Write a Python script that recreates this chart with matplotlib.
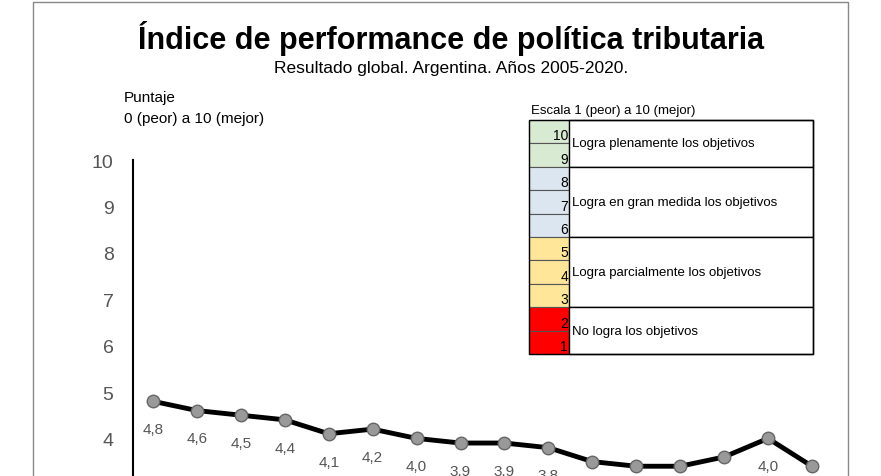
import matplotlib
matplotlib.use("Agg")
import matplotlib.pyplot as plt
from matplotlib.patches import Rectangle

plt.rcParams["font.family"] = "Liberation Sans"

years = list(range(2005, 2021))
scores = [4.8, 4.6, 4.5, 4.4, 4.1, 4.2, 4.0, 3.9, 3.9, 3.8, 3.5, 3.4, 3.4, 3.6, 4.0, 3.4]
labels = [f"{v:.1f}".replace(".", ",") for v in scores]
yticks = [3, 4, 5, 6, 7, 8, 9, 10]

scale_nums = [10, 9, 8, 7, 6, 5, 4, 3, 2, 1]
groups = [("Logra plenamente los objetivos", 2, "#d9ead3"),
          ("Logra en gran medida los objetivos", 3, "#dce6f1"),
          ("Logra parcialmente los objetivos", 3, "#ffe699"),
          ("No logra los objetivos", 2, "#ff0000")]

W, H = 881, 477
fig = plt.figure(figsize=(W / 100, H / 100), dpi=100)

# main axes, extends below the visible figure (chart is cropped)
px_unit = 46.4
y0_px = 161 + 10 * px_unit
ax = fig.add_axes([133 / W, 1 - y0_px / H, (848 - 133) / W, (y0_px - 161) / H])
ax.set_ylim(0, 10)
step = 43.93
ax.set_xlim(-(153 - 133) / step, (848 - 153) / step)
ax.plot(range(len(scores)), scores, color="black", lw=3.5, marker="o", ms=9,
        mfc="#999999", mec="#666666", mew=1, zorder=3)
for i, (v, t) in enumerate(zip(scores, labels)):
    ax.annotate(t, (i, v), xytext=(0, -20), textcoords="offset points",
                ha="center", va="center", fontsize=11, color="#555555")
ax.set_yticks(yticks)
ax.set_yticklabels([str(t) for t in yticks], fontsize=14, color="#555555")
ax.tick_params(axis="y", length=0, pad=14)
ax.set_xticks([])
for s in ("top", "right", "bottom"):
    ax.spines[s].set_visible(False)
ax.spines["left"].set_linewidth(1.5)

# overlay in pixel coordinates
ov = fig.add_axes([0, 0, 1, 1], facecolor="none")
ov.set_xlim(0, W); ov.set_ylim(H, 0); ov.axis("off")
ov.plot([33, 33, 848, 848], [H, 3, 3, H], color="#888888", lw=1)
ov.text(451, 38, "Índice de performance de política tributaria", ha="center", va="center",
        fontsize=22, fontweight="bold")
ov.text(451, 69, "Resultado global. Argentina. Años 2005-2020.", ha="center", va="center", fontsize=12.5)
ov.text(124, 98, "Puntaje", ha="left", va="center", fontsize=11)
ov.text(124, 119, "0 (peor) a 10 (mejor)", ha="left", va="center", fontsize=11)

tx0, tx1, cx1 = 529, 813, 569
ty = 121
rh = (355 - 121) / 10
ov.text(531, 111, "Escala 1 (peor) a 10 (mejor)", ha="left", va="center", fontsize=9.5)
k = 0
for name, n, col in groups:
    top = ty + k * rh
    for j in range(n):
        y = ty + (k + j) * rh
        ov.add_patch(Rectangle((tx0, y), cx1 - tx0, rh, fc=col, ec="#555555", lw=0.8))
        ov.text(cx1 - 1, y + rh - 1, str(scale_nums[k + j]), ha="right", va="bottom", fontsize=10)
    ov.add_patch(Rectangle((cx1, top), tx1 - cx1, n * rh, fc="white", ec="black", lw=1))
    ov.text(cx1 + 3, top + n * rh / 2, name, ha="left", va="center", fontsize=9.5)
    k += n
ov.add_patch(Rectangle((tx0, ty), tx1 - tx0, 10 * rh, fc="none", ec="black", lw=1))

fig.savefig("out.png", dpi=100)
